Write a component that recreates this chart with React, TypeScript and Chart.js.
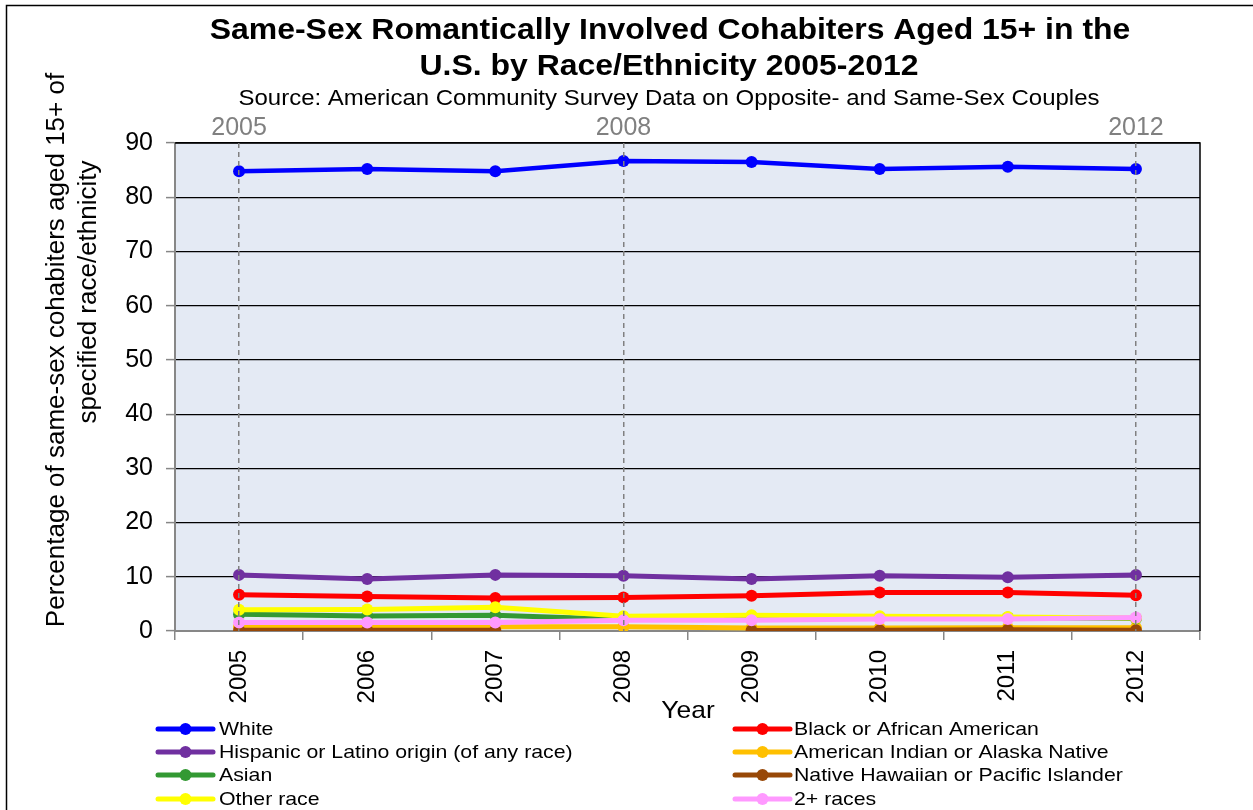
import React, { useEffect, useRef } from 'react';
import { Chart, registerables } from 'chart.js';

Chart.register(...registerables);

// ---------- data ----------
const years = ['2005', '2006', '2007', '2008', '2009', '2010', '2011', '2012'];
const topYearLabels = ['2005', '', '', '2008', '', '', '', '2012'];
const yTicks = [0, 10, 20, 30, 40, 50, 60, 70, 80, 90];

const white = [84.8, 85.2, 84.8, 86.7, 86.5, 85.2, 85.6, 85.2];
const blackAfricanAmerican = [6.7, 6.35, 6.1, 6.2, 6.5, 7.1, 7.1, 6.6];
const hispanicLatino = [10.35, 9.6, 10.35, 10.2, 9.6, 10.2, 9.9, 10.35];
const americanIndian = [0.8, 0.8, 0.8, 0.8, 0.55, 0.55, 0.6, 0.6];
const asian = [3.1, 2.75, 2.9, 2.1, 2.1, 2.6, 2.5, 2.3];
const nativeHawaiian = [0.15, 0.15, 0.15, null, 0.1, 0.15, 0.25, 0.15];
const otherRace = [3.9, 3.95, 4.4, 2.7, 2.9, 2.7, 2.6, 2.4];
const twoPlusRaces = [1.55, 1.55, 1.55, 2.0, 2.0, 2.2, 2.2, 2.5];

const seriesNames = [
  'White',
  'Black or African American',
  'Hispanic or Latino origin (of any race)',
  'American Indian or Alaska Native',
  'Asian',
  'Native Hawaiian or Pacific Islander',
  'Other race',
  '2+ races',
];
const seriesValues = [
  white,
  blackAfricanAmerican,
  hispanicLatino,
  americanIndian,
  asian,
  nativeHawaiian,
  otherRace,
  twoPlusRaces,
];
const seriesColors = [
  '#0000FF',
  '#FF0000',
  '#7030A0',
  '#FFC000',
  '#339933',
  '#984807',
  '#FFFF00',
  '#FF99FF',
];

const titleLines = [
  'Same-Sex Romantically Involved Cohabiters Aged 15+ in the',
  'U.S. by Race/Ethnicity 2005-2012',
];
const subtitleText = 'Source: American Community Survey Data on Opposite- and Same-Sex Couples';
const yTitleLines = ['Percentage of same-sex cohabiters aged 15+ of', 'specified race/ethnicity'];
const xTitleText = 'Year';

// ---------- styling ----------
const FONT = '"Liberation Sans", Arial, Helvetica, sans-serif';
const PLOT_BG = '#E4EAF4';
const AXIS_GRAY = '#878787';

function drawText(
  ctx: CanvasRenderingContext2D,
  s: string,
  x: number,
  y: number,
  font: string,
  color: string,
  align: CanvasTextAlign = 'center',
  sx = 1,
  rot = 0
) {
  ctx.save();
  ctx.translate(x, y);
  if (rot) ctx.rotate(rot);
  ctx.scale(sx, 1);
  ctx.font = font;
  ctx.fillStyle = color;
  ctx.textAlign = align;
  ctx.textBaseline = 'middle';
  ctx.fillText(s, 0, 0);
  ctx.restore();
}

const decorPlugin = {
  id: 'decor',
  beforeDraw(chart: any) {
    const { ctx, chartArea: a } = chart;
    ctx.save();
    ctx.fillStyle = '#FFFFFF';
    ctx.fillRect(0, 0, chart.width, chart.height);
    ctx.fillStyle = PLOT_BG;
    ctx.fillRect(a.left, a.top, a.right - a.left, a.bottom - a.top);
    ctx.restore();
  },
  beforeDatasetsDraw(chart: any) {
    const { ctx, chartArea: a } = chart;
    ctx.save();
    ctx.strokeStyle = '#000';
    ctx.lineWidth = 1.5;
    ctx.beginPath();
    ctx.moveTo(a.left, a.top);
    ctx.lineTo(a.right, a.top);
    ctx.lineTo(a.right, a.bottom);
    ctx.stroke();
    ctx.restore();
  },
  afterDraw(chart: any) {
    const ctx: CanvasRenderingContext2D = chart.ctx;
    ctx.save();
    // outer frame
    ctx.strokeStyle = '#000';
    ctx.lineWidth = 1.5;
    ctx.strokeRect(6.5, 5.5, chart.width + 20, chart.height + 20);

    // titles
    drawText(ctx, titleLines[0], 670, 31, `bold 30px ${FONT}`, '#000', 'center', 1.065);
    drawText(ctx, titleLines[1], 669, 67, `bold 30px ${FONT}`, '#000', 'center', 1.065);
    drawText(ctx, subtitleText, 669, 99, `22px ${FONT}`, '#000', 'center', 1.09);

    // y-axis title (rotated)
    drawText(ctx, yTitleLines[0], 57, 350, `26px ${FONT}`, '#000', 'center', 1, -Math.PI / 2);
    drawText(ctx, yTitleLines[1], 89, 292, `26px ${FONT}`, '#000', 'center', 1, -Math.PI / 2);

    // x-axis title
    drawText(ctx, xTitleText, 688, 711, `24px ${FONT}`, '#000', 'center', 1.1);

    // legend
    const rows = [729, 752, 775, 799];
    const cols = [
      { x0: 158, x1: 213, tx: 219 },
      { x0: 735, x1: 790, tx: 794 },
    ];
    seriesNames.forEach((name, i) => {
      const col = cols[i % 2];
      const y = rows[Math.floor(i / 2)];
      ctx.strokeStyle = seriesColors[i];
      ctx.lineWidth = 5;
      ctx.lineCap = 'round';
      ctx.beginPath();
      ctx.moveTo(col.x0, y);
      ctx.lineTo(col.x1, y);
      ctx.stroke();
      ctx.fillStyle = seriesColors[i];
      ctx.beginPath();
      ctx.arc((col.x0 + col.x1) / 2, y, 6, 0, Math.PI * 2);
      ctx.fill();
      drawText(ctx, name, col.tx, y + 1, `19px ${FONT}`, '#000', 'left', 1.12);
    });
    ctx.restore();
  },
};

export default function App() {
  const canvasRef = useRef<HTMLCanvasElement>(null);

  useEffect(() => {
    const canvas = canvasRef.current;
    if (!canvas) return;
    const chart = new Chart(canvas, {
      type: 'line',
      data: {
        labels: years,
        datasets: seriesNames.map((name, i) => ({
          label: name,
          data: seriesValues[i],
          borderColor: seriesColors[i],
          backgroundColor: seriesColors[i],
          borderWidth: i === 0 ? 4.5 : 5,
          pointRadius: 6,
          pointBorderWidth: 0,
          pointBackgroundColor: seriesColors[i],
          tension: 0,
          spanGaps: false,
          order: seriesNames.length - i,
          xAxisID: 'x',
          yAxisID: 'y',
        })),
      },
      options: {
        responsive: false,
        animation: false,
        devicePixelRatio: 1,
        layout: { padding: { left: 0, right: 53, top: 103, bottom: 99 } },
        plugins: {
          legend: { display: false },
          title: { display: false },
          tooltip: { enabled: false },
        },
        scales: {
          x: {
            type: 'category',
            position: 'bottom',
            offset: true,
            afterFit: (s: any) => {
              s.height = 80;
            },
            grid: {
              offset: true,
              drawOnChartArea: false,
              drawTicks: true,
              tickLength: 9,
              color: AXIS_GRAY,
              tickColor: AXIS_GRAY,
              lineWidth: 1.5,
            },
            border: { display: true, color: AXIS_GRAY, width: 2 },
            ticks: {
              autoSkip: false,
              minRotation: 90,
              maxRotation: 90,
              padding: 10,
              color: '#000',
              font: { family: FONT, size: 24 },
            },
          },
          x2: {
            type: 'category',
            position: 'top',
            offset: true,
            afterFit: (s: any) => {
              s.height = 40;
            },
            grid: {
              offset: false,
              drawTicks: false,
              z: 1,
              lineWidth: 1.5,
              color: (c: any) => (topYearLabels[c.index] ? '#808080' : 'rgba(0,0,0,0)'),
            },
            border: { display: false, dash: [5, 4] },
            ticks: {
              autoSkip: false,
              maxRotation: 0,
              minRotation: 0,
              padding: 0,
              color: '#808080',
              font: { family: FONT, size: 25 },
              callback: (_v: any, i: number) => topYearLabels[i],
            },
          },
          y: {
            type: 'linear',
            position: 'left',
            min: 0,
            max: 90,
            afterFit: (s: any) => {
              s.width = 175;
            },
            afterBuildTicks: (s: any) => {
              s.ticks = yTicks.map((v) => ({ value: v }));
            },
            grid: {
              drawTicks: true,
              tickLength: 9,
              tickColor: AXIS_GRAY,
              tickWidth: 1.5,
              lineWidth: 1.2,
              color: (c: any) => (c.index === 0 ? 'rgba(0,0,0,0)' : '#000'),
            },
            border: { display: true, color: AXIS_GRAY, width: 2 },
            ticks: {
              padding: 13,
              color: '#000',
              font: { family: FONT, size: 25 },
            },
          },
        },
      },
      plugins: [decorPlugin],
    });
    return () => chart.destroy();
  }, []);

  return (
    <div style={{ position: 'absolute', left: 0, top: 0, width: 1253, height: 810, background: '#fff' }}>
      <canvas ref={canvasRef} width={1253} height={810} style={{ display: 'block', width: 1253, height: 810 }} />
    </div>
  );
}
